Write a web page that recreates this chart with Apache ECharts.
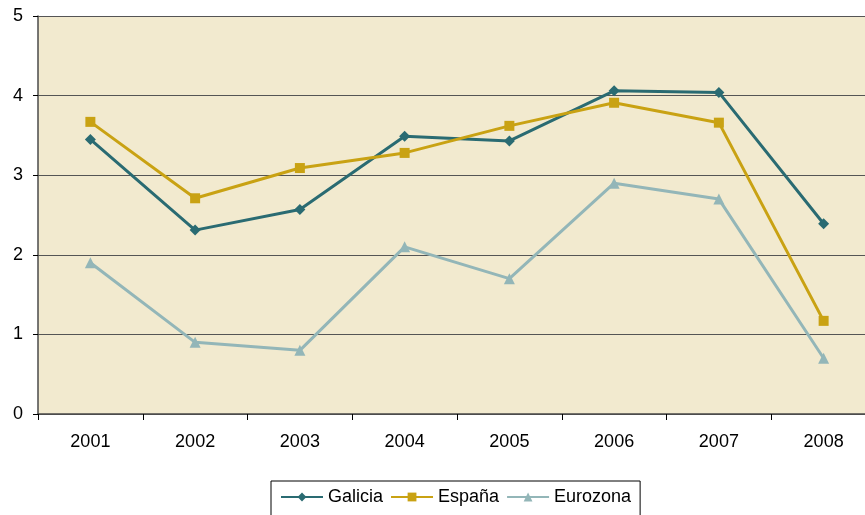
<!DOCTYPE html>
<html>
<head>
    <meta charset="utf-8">
    <title>Galicia España Eurozona</title>
    <script src="https://cdn.jsdelivr.net/npm/echarts@6/dist/echarts.min.js"></script>
    <style>
        html, body { margin: 0; padding: 0; background: #fff; overflow: hidden; }
        #chart { width: 880px; height: 515px; }
    </style>
</head>
<body>
<div id="chart"></div>
<script type="text/javascript">
    var years = ['2001', '2002', '2003', '2004', '2005', '2006', '2007', '2008'];
    var galicia = [3.45, 2.31, 2.57, 3.49, 3.43, 4.06, 4.04, 2.39];
    var espana = [3.67, 2.71, 3.09, 3.28, 3.62, 3.91, 3.66, 1.17];
    var eurozona = [1.9, 0.9, 0.8, 2.1, 1.7, 2.9, 2.7, 0.7];

    // el div es más ancho que la ventana: el área del gráfico sale cortada por la derecha
    var myChart = echarts.init(document.getElementById('chart'));
    var font = 'Liberation Sans, Arial, sans-serif';
    var option = {
        animation: false,
        textStyle: { fontFamily: font },
        grid: {
            left: 38, right: 4, top: 16, bottom: 101,
            show: true, backgroundColor: '#F2EACF', borderWidth: 0
        },
        legend: {
            left: 271, top: 481,
            padding: [7, 9, 10, 9],
            borderColor: '#000', borderWidth: 1,
            itemWidth: 42, itemHeight: 11, itemGap: 7,
            textStyle: { fontSize: 18, color: '#000', fontFamily: font },
            data: ['Galicia', 'España', 'Eurozona']
        },
        xAxis: {
            type: 'category',
            data: years,
            boundaryGap: true,
            axisLine: { lineStyle: { color: '#4a4a4a', width: 1.5 } },
            axisTick: { show: true, length: 6, inside: false, lineStyle: { color: '#000' } },
            axisLabel: { color: '#000', fontSize: 18, margin: 19, fontFamily: font },
            splitLine: { show: false }
        },
        yAxis: {
            type: 'value',
            min: 0, max: 5, interval: 1,
            axisLine: { show: true, lineStyle: { color: '#4a4a4a', width: 1.5 } },
            axisTick: { show: true, length: 5, lineStyle: { color: '#000' } },
            axisLabel: { color: '#000', fontSize: 18, margin: 15, fontFamily: font },
            splitLine: { show: true, lineStyle: { color: '#555', width: 1.2 } }
        },
        series: [
            {
                name: 'Galicia', type: 'line', data: galicia,
                symbol: 'diamond', symbolSize: 11,
                lineStyle: { color: '#2A6B72', width: 3 },
                itemStyle: { color: '#2A6B72' }
            },
            {
                name: 'España', type: 'line', data: espana,
                symbol: 'rect', symbolSize: 10,
                lineStyle: { color: '#C9A213', width: 3 },
                itemStyle: { color: '#C9A213' }
            },
            {
                name: 'Eurozona', type: 'line', data: eurozona,
                symbol: 'triangle', symbolSize: 11,
                lineStyle: { color: '#93B6B8', width: 3 },
                itemStyle: { color: '#93B6B8' }
            }
        ]
    };
    myChart.setOption(option);
</script>
</body>
</html>
